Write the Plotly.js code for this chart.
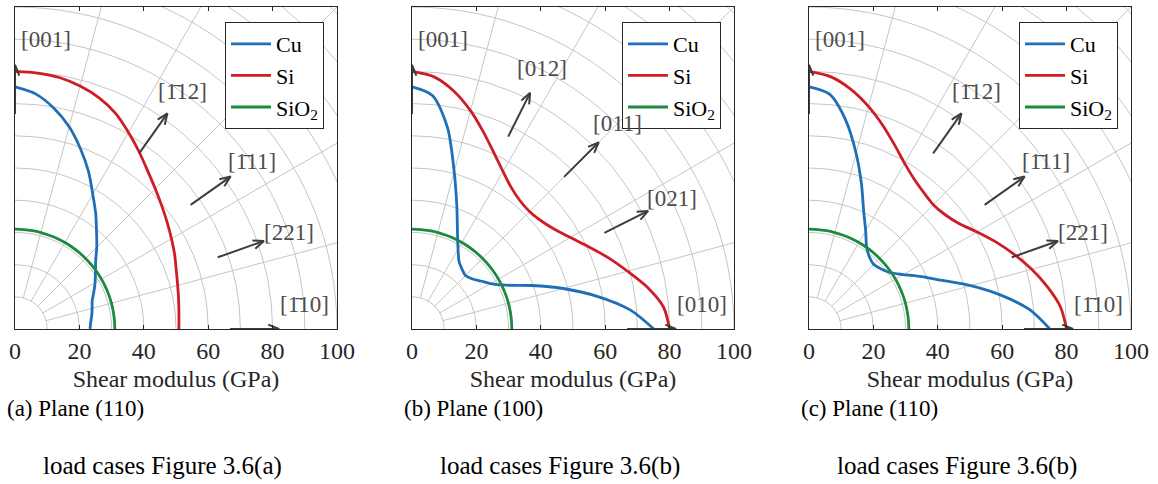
<!DOCTYPE html>
<html>
<head>
<meta charset="utf-8">
<script src="https://cdn.plot.ly/plotly-3.0.1.min.js"></script>
<style>html,body{margin:0;padding:0;background:#fff;}#chart{width:1158px;height:484px;}</style>
</head>
<body>
<div id="chart"></div>
<script>
// ---------------- data ----------------
const angles = [0, 5, 10, 15, 20, 25, 30, 35, 40, 45, 50, 55, 60, 65, 70, 75, 80, 85, 90];

// Panel (a): plane (110), load cases 3.6(a)
const cuA   = [23.3, 23.6, 24.2, 24.8, 25.5, 27.0, 28.7, 30.5, 32.7, 35.9, 39.4, 43.7, 48.3, 54.0, 59.5, 65.0, 69.6, 73.3, 75.2];
const siA   = [50.9, 51.1, 51.6, 52.3, 53.3, 54.7, 56.1, 57.7, 59.5, 61.6, 64.1, 67.2, 70.5, 73.9, 76.4, 78.1, 79.3, 79.8, 80.0];
const sio2A = [31.0, 31.0, 31.0, 31.0, 31.0, 31.0, 31.0, 31.0, 31.0, 31.0, 31.0, 31.0, 31.0, 31.0, 31.0, 31.0, 31.0, 31.0, 31.0];

// Panel (b): plane (100), load cases 3.6(b)
const cuB   = [75.1, 68.0, 58.4, 48.6, 39.5, 32.2, 28.2, 26.0, 24.3, 23.5, 24.2, 25.5, 28.6, 33.4, 40.7, 50.6, 63.5, 72.8, 75.2];
const siB   = [80.0, 78.4, 74.3, 69.3, 64.8, 60.5, 56.8, 54.0, 52.3, 51.6, 52.1, 53.7, 56.5, 60.3, 65.0, 70.2, 75.0, 78.6, 80.0];
const sio2B = [31.0, 31.0, 31.0, 31.0, 31.0, 31.0, 31.0, 31.0, 31.0, 31.0, 31.0, 31.0, 31.0, 31.0, 31.0, 31.0, 31.0, 31.0, 31.0];

// Panel (c): plane (110), load cases 3.6(b)
const cuC   = [74.8, 68.8, 60.5, 52.0, 44.1, 38.5, 33.8, 30.6, 29.1, 28.4, 29.2, 31.2, 35.2, 40.2, 47.7, 56.5, 65.8, 73.2, 75.2];
const siC   = [80.0, 78.4, 75.2, 71.6, 67.8, 64.0, 60.3, 57.0, 55.2, 54.6, 55.4, 56.9, 59.4, 63.0, 67.2, 71.5, 75.5, 78.6, 80.0];
const sio2C = [31.0, 31.0, 31.0, 31.0, 31.0, 31.0, 31.0, 31.0, 31.0, 31.0, 31.0, 31.0, 31.0, 31.0, 31.0, 31.0, 31.0, 31.0, 31.0];

// crystal directions (labels and in-plane angles, degrees)
const dirLabels110 = ["[001]", "[1\u030412]", "[1\u030411]", "[2\u030421]", "[1\u030410]"];
const dirAngles110 = [90, 54.74, 35.26, 19.47, 0];
const dirLabels100 = ["[001]", "[012]", "[011]", "[021]", "[010]"];
const dirAngles100 = [90, 63.43, 45, 26.57, 0];

const seriesNames = ["Cu", "Si", "SiO<sub>2</sub>"];
const xTicks = [0, 20, 40, 60, 80, 100];
const xTitle = "Shear modulus (GPa)";
const captions = [
  ["(a) Plane (110)", "load cases Figure 3.6(a)"],
  ["(b) Plane (100)", "load cases Figure 3.6(b)"],
  ["(c) Plane (110)", "load cases Figure 3.6(b)"]
];

// ---------------- build ----------------
const W = 1158, H = 484;
const colors = ["#1f6fb8", "#cf1d25", "#1c8a3f"];
const FONT = "Liberation Serif";
const panels = [
  {cu: cuA, si: siA, sio2: sio2A, labels: dirLabels110, dirs: dirAngles110, left: 15},
  {cu: cuB, si: siB, sio2: sio2B, labels: dirLabels100, dirs: dirAngles100, left: 412},
  {cu: cuC, si: siC, sio2: sio2C, labels: dirLabels110, dirs: dirAngles110, left: 809}
];
const boxW = 322, boxTop = 7, boxBot = 329;
const rad = d => d * Math.PI / 180;

const traces = [];
const shapes = [];
const annotations = [];
const layout = {
  width: W, height: H,
  margin: {l: 0, r: 0, t: 0, b: 0},
  paper_bgcolor: "#ffffff", plot_bgcolor: "#ffffff",
  font: {family: FONT, size: 22, color: "#262626"},
  showlegend: true
};

panels.forEach((p, i) => {
  const sfx = i === 0 ? "" : String(i + 1);
  const xa = "x" + sfx, ya = "y" + sfx;
  const legendId = "legend" + sfx;
  const x0 = p.left / W, x1 = (p.left + boxW) / W;
  layout["xaxis" + sfx] = {
    domain: [x0, x1], range: [0, 100], anchor: ya,
    tickvals: xTicks, ticktext: xTicks.map(String),
    ticks: "inside", ticklen: 4, tickcolor: "#262626", mirror: "ticks",
    showline: true, linecolor: "#262626", linewidth: 1,
    showgrid: false, zeroline: false, fixedrange: true,
    tickfont: {family: FONT, size: 24, color: "#262626"},
    ticklabelstandoff: 0,
    title: {text: xTitle, font: {family: FONT, size: 24, color: "#262626"}, standoff: 7}
  };
  layout["yaxis" + sfx] = {
    domain: [(H - boxBot) / H, (H - boxTop) / H], range: [0, 100], anchor: xa,
    showticklabels: false, ticks: "", showline: true, mirror: true,
    linecolor: "#262626", linewidth: 1, showgrid: false, zeroline: false, fixedrange: true
  };
  layout[legendId] = {
    x: (p.left + 309) / W, y: (H - 22) / H, xanchor: "right", yanchor: "top",
    bgcolor: "#ffffff", bordercolor: "#262626", borderwidth: 1,
    font: {family: FONT, size: 22, color: "#000000"},
    itemwidth: 40, tracegroupgap: 0
  };

  // polar grid: circles every 10 GPa, spokes every 15 degrees
  for (let r = 10; r <= 140; r += 10) {
    shapes.push({type: "circle", xref: xa, yref: ya, x0: -r, y0: -r, x1: r, y1: r,
      line: {color: "#c6c6c6", width: 1}, layer: "below"});
  }
  for (let a = 15; a < 90; a += 15) {
    shapes.push({type: "line", xref: xa, yref: ya,
      x0: 10 * Math.cos(rad(a)), y0: 10 * Math.sin(rad(a)),
      x1: 160 * Math.cos(rad(a)), y1: 160 * Math.sin(rad(a)),
      line: {color: "#c6c6c6", width: 1}, layer: "below"});
  }

  // curves
  [p.cu, p.si, p.sio2].forEach((rv, k) => {
    traces.push({
      type: "scatter", mode: "lines", name: seriesNames[k],
      x: rv.map((r, j) => r * Math.cos(rad(angles[j]))),
      y: rv.map((r, j) => r * Math.sin(rad(angles[j]))),
      xaxis: xa, yaxis: ya, legend: legendId,
      line: {color: colors[k], width: 2.8, shape: "spline", smoothing: 0.8},
      hoverinfo: "skip"
    });
  });

  // direction arrows and labels
  const rS = 66.8, rE = 82, barb = 3.6, spread = 22;
  p.dirs.forEach((a, j) => {
    const t = rad(a);
    const tx = rE * Math.cos(t), ty = rE * Math.sin(t);
    const b1 = t + Math.PI - rad(spread), b2 = t + Math.PI + rad(spread);
    traces.push({
      type: "scatter", mode: "lines", showlegend: false, hoverinfo: "skip",
      xaxis: xa, yaxis: ya,
      x: [rS * Math.cos(t), tx, null, tx + barb * Math.cos(b1), tx, tx + barb * Math.cos(b2)],
      y: [rS * Math.sin(t), ty, null, ty + barb * Math.sin(b1), ty, ty + barb * Math.sin(b2)],
      line: {color: "#3d3d3d", width: 2}
    });
    const la = Math.min(Math.max(a, 4.8), 83.8);
    const lr = 90.3;
    annotations.push({
      xref: xa, yref: ya, x: lr * Math.cos(rad(la)), y: lr * Math.sin(rad(la)),
      text: p.labels[j], showarrow: false, xanchor: "center", yanchor: "middle",
      font: {family: FONT, size: 23, color: "#4d4d4d"}
    });
  });

  // captions
  annotations.push({xref: "paper", yref: "paper", x: (p.left - 10) / W, y: (H - 408) / H,
    xanchor: "left", yanchor: "middle", showarrow: false, text: captions[i][0],
    font: {family: FONT, size: 23, color: "#000000"}});
  annotations.push({xref: "paper", yref: "paper", x: (p.left + 26) / W, y: (H - 466) / H,
    xanchor: "left", yanchor: "middle", showarrow: false, text: captions[i][1],
    font: {family: FONT, size: 25, color: "#000000"}});
});

layout.shapes = shapes;
layout.annotations = annotations;

Plotly.newPlot("chart", traces, layout, {displayModeBar: false, staticPlot: true});
</script>
</body>
</html>
